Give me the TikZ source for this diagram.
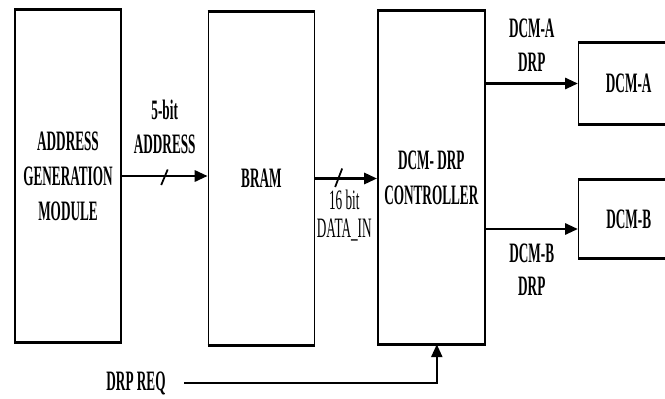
\documentclass[tikz,border=0pt]{standalone}
\usepackage{fontspec}
\setmainfont{Liberation Serif}[FakeStretch=0.47]
\usepackage{tikz}
\usetikzlibrary{arrows.meta,positioning}

\begin{document}
\begin{tikzpicture}[node distance=12mm and 16mm,>={Triangle[length=2.6mm,width=2.2mm]}]
\tikzset{box/.style={draw,line width=0.8pt,inner sep=0pt,minimum width=2.12cm,minimum height=6.64cm,align=center,font=\bfseries\fontsize{16}{20}\selectfont},
  edge/.style={line width=1.7pt},
  lbl/.style={align=center,font=\bfseries\fontsize{16}{19}\selectfont},
  bus/.style={->,line width=1.7pt},
  slashmark/.style={line width=1pt}}
\clip (0,0) rectangle (13.3,-7.96);
\useasboundingbox (0,0) rectangle (13.3,-7.96);
\node[box] (agm) at (1.36,-3.52) {ADDRESS\\GENERATION\\MODULE};
\node[box,right=1.72cm of agm,yshift=-0.05cm] (bram) {BRAM};
\node[box,right=1.24cm of bram,minimum width=2.14cm,yshift=0.02cm] (ctrl) {DCM- DRP\\CONTROLLER};
\node[box,anchor=west,minimum width=2.3cm,minimum height=1.62cm] (dcma) at (11.56,-1.67) {\hspace*{-0.3cm}DCM-A};
\node[box,anchor=west,minimum width=2.3cm,minimum height=1.56cm] (dcmb) at (11.56,-4.38) {\hspace*{-0.3cm}DCM-B};
\foreach \n in {agm,bram,ctrl,dcma,dcmb}
  \draw[edge] (\n.north west) -- (\n.north east) (\n.south west) -- (\n.south east);
% buses
\draw[bus] (agm.east) -- node[coordinate,pos=0.5] (s1) {} node[lbl,above=0.3cm] {5-bit\\ADDRESS} (agm.east -| bram.west);
\draw[slashmark] ([shift={(-0.07,-0.18)}]s1) -- ([shift={(0.06,0.13)}]s1);
\draw[bus] (bram.east) -- node[coordinate,pos=0.38] (s2) {} node[pos=0.47,below=0.08cm,align=center,font=\fontsize{16}{16}\selectfont] {16 bit\\DATA\_IN} (bram.east -| ctrl.west);
\draw[slashmark] ([shift={(-0.07,-0.17)}]s2) -- ([shift={(0.07,0.2)}]s2);
\coordinate (pb) at ([yshift=-0.2cm]dcmb.west);
\draw[bus] (ctrl.east |- dcma.west) -- node[lbl,above=0.1cm] {DCM-A\\DRP} (dcma.west);
\draw[bus] (ctrl.east |- pb) -- node[lbl,below=0.15cm] {DCM-B\\DRP} (pb);
% request line
\node[lbl] (req) at (2.72,-7.66) {DRP REQ};
\coordinate (rq) at ([xshift=0.11cm]ctrl.south);
\draw[bus,line width=1.4pt,shorten <=0.25cm] (req.east) -- (req.east -| rq) -- (rq);
\end{tikzpicture}
\end{document}
